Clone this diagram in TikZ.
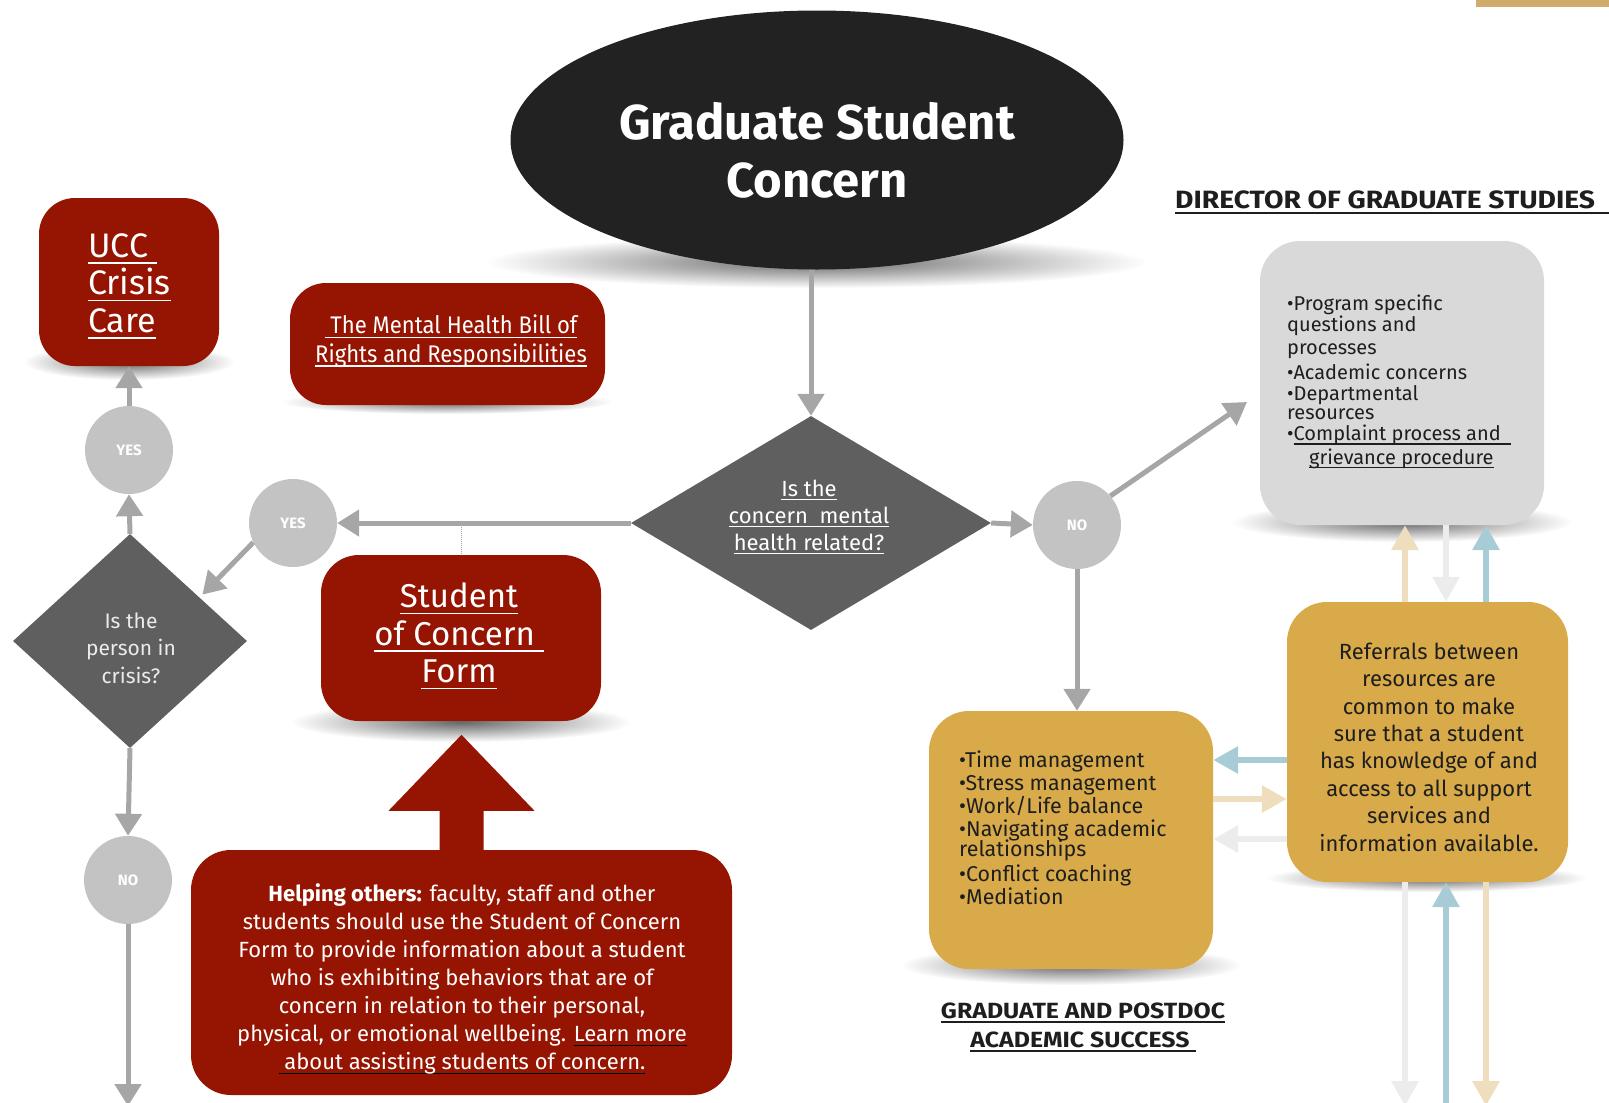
\documentclass[tikz,border=0pt]{standalone}
\usepackage{fontspec}
\setmainfont{Fira Sans}
\newfontfamily\condf[FakeStretch=0.92]{Fira Sans}
\newfontfamily\widef[FakeStretch=1.13]{Fira Sans}
\newsavebox\ulbox
\newcommand\uln[1]{\sbox\ulbox{#1}\leavevmode\rlap{\rule[-0.2em]{\wd\ulbox}{1.5pt}}\usebox\ulbox}
\newcommand\bkul[1]{\sbox\ulbox{#1}\leavevmode\rlap{\textcolor{black}{\rule[-0.2em]{\wd\ulbox}{1.5pt}}}\usebox\ulbox}
\usetikzlibrary{shapes.geometric,arrows.meta,fadings,calc}
\tikzfading[name=softfade, inner color=transparent!15, outer color=transparent!100]
\definecolor{crim}{RGB}{150,20,2}
\definecolor{ink}{RGB}{34,34,34}
\definecolor{dia}{RGB}{95,95,95}
\definecolor{circ}{RGB}{195,195,195}
\definecolor{arrg}{RGB}{166,166,166}
\definecolor{gold}{RGB}{216,170,74}
\definecolor{lgray}{RGB}{217,217,217}
\definecolor{barc}{RGB}{208,172,108}
\definecolor{abl}{RGB}{168,204,214}
\definecolor{atan}{RGB}{238,222,190}
\definecolor{alg}{RGB}{236,236,236}
\definecolor{txt}{RGB}{30,30,30}
\tikzset{
  box/.style={rectangle, rounded corners=38pt, inner sep=0pt},
  redbox/.style={box, fill=crim},
  yn/.style={circle, fill=circ, minimum size=88pt, inner sep=0pt, text=white, font=\bfseries\fontsize{15}{15}\selectfont},
  flow/.style={draw=arrg, line width=5pt, -{Triangle[width=26pt,length=22pt]}},
  refarr/.style={line width=6.5pt, -{Triangle[width=26pt,length=25pt]}},
  softshadow/.style={fill=black!70, path fading=softfade},
  dia/.style={diamond, fill=dia, inner sep=0pt},
}
\begin{document}
\begin{tikzpicture}[x=1pt,y=-1pt]
\useasboundingbox (0,0) rectangle (1609,1103);
\fill[barc] (1476,0) rectangle (1609,7);
% shadows
\fill[softshadow] (817,262) ellipse [x radius=330, y radius=26];
\fill[softshadow] (129,362) ellipse [x radius=105, y radius=18];
\fill[softshadow] (447,402) ellipse [x radius=165, y radius=12];
\fill[softshadow] (461,722) ellipse [x radius=170, y radius=20];
\fill[softshadow] (1402,522) ellipse [x radius=170, y radius=20];
\fill[softshadow] (1071,965) ellipse [x radius=170, y radius=20];
\fill[softshadow] (1427,878) ellipse [x radius=160, y radius=14];
% top ellipse
\node[ellipse, fill=ink, minimum width=613pt, minimum height=259pt, inner sep=0pt] (gsc) at (817,140) {};
\node[text=white, font=\bfseries\fontsize{49}{58}\selectfont, align=center, inner sep=0pt] (gsct) at (817,150) {Graduate Student\\Concern};
% DGS
\node[font=\widef\bfseries\fontsize{25}{25}\selectfont, anchor=base west, inner sep=0pt, text=txt] (dgsl) at (1175,208) {DIRECTOR OF GRADUATE STUDIES};
\draw[line width=1.6pt, txt] ([yshift=-5pt]dgsl.base west) -- ([yshift=-5pt]dgsl.base west -| 1609,0);
\node[box, fill=lgray, minimum width=284pt, minimum height=284pt, rounded corners=40pt] (dgs) at (1402,383) {};
\node[anchor=north west, align=left, text=txt, font=\fontsize{20}{19.5}\selectfont, inner sep=0pt] (dgst) at (1287,295)
 {•Program specific\\questions and\\[3pt]processes\\[4pt]•Academic concerns\\[2pt]•Departmental\\[-1pt]resources\\[2pt]•\uln{Complaint process and\ \ }\\[3pt]\hspace{22pt}\uln{grievance procedure}};
% main diamond
\node[dia, minimum width=360pt, minimum height=214pt] (d1) at (811,523) {};
\node[text=white, align=center, font=\fontsize{22}{27}\selectfont, inner sep=0pt] (d1t) at (809,517)
 {\uln{Is the}\\\uln{concern\ \ mental}\\\uln{health related?}};
% NO right
\node[yn] (no1) at (1077,525) {NO};
\coordinate (dgsin) at (1247,402);
% gold boxes
\node[box, fill=gold, minimum width=284pt, minimum height=258pt, rounded corners=40pt] (gl) at (1071,840) {};
\node[anchor=north west, align=left, text=txt, font=\fontsize{21.4}{23}\selectfont, inner sep=0pt] (glt) at (959,751)
 {•Time management\\•Stress management\\•Work/Life balance\\•Navigating academic\\[-3pt]relationships\\[2pt]•Conflict coaching\\•Mediation};
\node[box, fill=gold, minimum width=281pt, minimum height=280pt, rounded corners=40pt] (gr) at (1427.5,742) {};
\node[align=center, text=txt, font=\fontsize{22}{27.4}\selectfont, inner sep=0pt] (grt) at (1429,747)
 {Referrals between\\resources are\\common to make\\sure that a student\\has knowledge of and\\access to all support\\services and\\information available.};
\node[align=center, text=txt, font=\widef\bfseries\fontsize{22}{29}\selectfont, inner sep=0pt] (gpl) at (1083,1027)
 {\uln{GRADUATE AND POSTDOC}\\\uln{ACADEMIC SUCCESS\ }};
% left column
\node[redbox, minimum width=180pt, minimum height=168pt, rounded corners=36pt] (ucc) at (129,282) {};
\node[anchor=west, align=left, text=white, font=\fontsize{34}{37.5}\selectfont, inner sep=0pt] (ucct) at (88,286)
 {\uln{UCC\ }\\\uln{Crisis}\\\uln{Care}};
\node[redbox, minimum width=315pt, minimum height=122pt, rounded corners=36pt] (mhb) at (447.5,344) {};
\node[align=center, text=white, font=\condf\fontsize{24}{28.5}\selectfont, inner sep=0pt] (mhbt) at (451,341)
 {\uln{\ The Mental Health Bill of}\\\uln{Rights and Responsibilities}};
\node[yn] (yes1) at (129,450) {YES};
\node[dia, minimum width=234pt, minimum height=214pt] (d2) at (130,641) {};
\node[align=center, text=white!92!black, font=\fontsize{21}{27.5}\selectfont, inner sep=0pt] (d2t) at (131,648)
 {Is the\\person in\\crisis?};
\node[yn] (yes2) at (293,523) {YES};
\node[yn] (no2) at (128,880) {NO};
\coordinate (botl) at (128,1106);
\node[redbox, minimum width=280pt, minimum height=166pt, rounded corners=38pt] (soc) at (461,638) {};
\node[align=center, text=white, font=\fontsize{33}{37.5}\selectfont, inner sep=0pt] (soct) at (459,636)
 {\uln{Student}\\\uln{of Concern\ }\\\uln{Form}};
\node[redbox, minimum width=541pt, minimum height=245pt, rounded corners=40pt] (help) at (461.5,972.5) {};
\node[align=center, text=white, font=\fontsize{22}{28.1}\selectfont, inner sep=0pt] (helpt) at (462,979)
 {{\bfseries Helping others:} faculty, staff and other\\students should use the Student of Concern\\Form to provide information about a student\\who is exhibiting behaviors that are of\\concern in relation to their personal,\\physical, or emotional wellbeing. \bkul{Learn more}\\\bkul{\ about assisting students of concern.}};
% block arrow
\fill[crim] (help.north) ++(-22,1) -- ++(0,-40) -- ++(-51,0) -- ++(73,-76) -- ++(73,76) -- ++(-51,0) -- ++(0,40) -- cycle;
% flow connectors
\draw[flow] (gsc.south -| d1.north) -- (d1.north);
\draw[flow] (d1.east) -- (no1.west);
\draw[flow] (no1.41) -- (dgsin);
\draw[flow] (no1.south) -- (no1.south |- gl.north);
\draw[flow] (d1.west) -- (yes2.east);
\draw[flow, shorten >=4pt] (yes2.206) -- (d2.32);
\draw[flow] (d2.north) -- (yes1.south);
\draw[flow] (yes1.north) -- (ucc.south);
\draw[flow] (d2.south) -- (no2.north);
\draw[flow] (no2.south) -- (botl);
\draw[arrg, line width=1pt, densely dotted] (d1.west -| soc.north) -- (soc.north);
% referral arrows
\coordinate (v1) at (1405,1106);
\coordinate (v2) at (1446,1106);
\coordinate (v3) at (1486,1106);
\draw[refarr, abl] (gr.west |- 0,760) -- (gl.east |- 0,760);
\draw[refarr, atan] (gl.east |- 0,799) -- (gr.west |- 0,799);
\draw[refarr, alg] (gr.west |- 0,839) -- (gl.east |- 0,839);
\draw[refarr, atan] (gr.north -| v1) -- (dgs.south -| v1);
\draw[refarr, alg] (dgs.south -| v2) -- (gr.north -| v2);
\draw[refarr, abl] (gr.north -| v3) -- (dgs.south -| v3);
\draw[refarr, alg] (gr.south -| v1) -- (v1);
\draw[refarr, abl] (v2) -- (gr.south -| v2);
\draw[refarr, atan] (gr.south -| v3) -- (v3);
\end{tikzpicture}
\end{document}
